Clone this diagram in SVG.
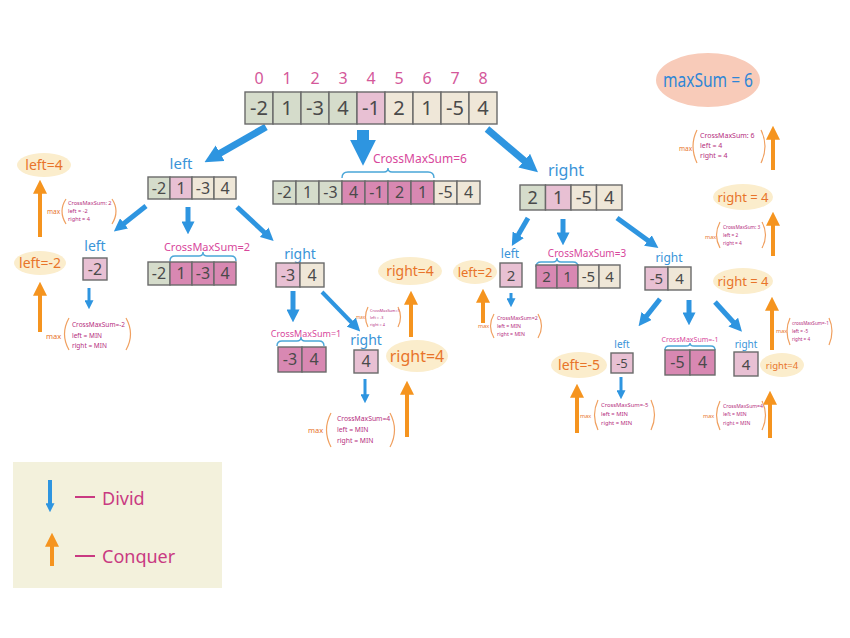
<svg xmlns="http://www.w3.org/2000/svg" width="850" height="638" viewBox="0 0 850 638">
<style>
.g{fill:#d5dccb;stroke:#6a6a6a;stroke-width:1.4}
.lp{fill:#e8c0d3;stroke:#6a6a6a;stroke-width:1.4}
.bg{fill:#efe7d8;stroke:#6a6a6a;stroke-width:1.4}
.dp{fill:#d888b2;stroke:#6a6a6a;stroke-width:1.4}
text{font-family:"Noto Sans","Liberation Sans",sans-serif}
.n{fill:#4a4a4a;text-anchor:middle}
.idx{fill:#d4589a;font-size:16px;text-anchor:middle}
.bl{fill:#3a94d8;text-anchor:middle}
.cm{fill:#d8489c;text-anchor:middle}
.ot{fill:#e8742a;text-anchor:middle}
.ell{fill:#fbedcc}
.mx{fill:#e8742a}
.mt{fill:#b52d7e}
.par{fill:none;stroke:#f0a060;stroke-width:1.2}
.br{fill:none;stroke:#4aa6d8;stroke-width:1.4}
.ba{stroke:#2e95e0;fill:none}
.oa{stroke:#f5941f;stroke-width:4;fill:none;marker-end:url(#mo)}
</style>
<defs>
<marker id="mb0" viewBox="0 0 10 10" refX="2" refY="5" markerWidth="26" markerHeight="26" markerUnits="userSpaceOnUse" orient="auto"><path d="M0,0L10,5L0,10z" fill="#2e95e0"/></marker>
<marker id="mb1" viewBox="0 0 10 10" refX="2" refY="5" markerWidth="18" markerHeight="18" markerUnits="userSpaceOnUse" orient="auto"><path d="M0,0L10,5L0,10z" fill="#2e95e0"/></marker>
<marker id="mb2" viewBox="0 0 10 10" refX="2" refY="5" markerWidth="13" markerHeight="13" markerUnits="userSpaceOnUse" orient="auto"><path d="M0,0L10,5L0,10z" fill="#2e95e0"/></marker>
<marker id="mb3" viewBox="0 0 10 10" refX="2" refY="5" markerWidth="9" markerHeight="9" markerUnits="userSpaceOnUse" orient="auto"><path d="M0,0L10,5L0,10z" fill="#2e95e0"/></marker>
<marker id="mo" viewBox="0 0 10 10" refX="2" refY="5" markerWidth="14" markerHeight="14" markerUnits="userSpaceOnUse" orient="auto"><path d="M0,0L10,5L0,10z" fill="#f5941f"/></marker>
</defs>
<rect width="850" height="638" fill="#ffffff"/>

<g id="connectors">
<line class="ba" x1="266" y1="127" x2="217" y2="155" stroke-width="7" marker-end="url(#mb1)"/>
<line class="ba" x1="363" y1="130" x2="363" y2="145" stroke-width="12" marker-end="url(#mb0)"/>
<line class="ba" x1="487" y1="129" x2="527" y2="163" stroke-width="7" marker-end="url(#mb1)"/>
<line class="ba" x1="146" y1="206" x2="122" y2="225" stroke-width="5" marker-end="url(#mb2)"/>
<line class="ba" x1="188" y1="207" x2="188" y2="224" stroke-width="5" marker-end="url(#mb2)"/>
<line class="ba" x1="237" y1="207" x2="266" y2="234" stroke-width="5" marker-end="url(#mb2)"/>
<line class="ba" x1="293" y1="291" x2="293" y2="312" stroke-width="5" marker-end="url(#mb2)"/>
<line class="ba" x1="322" y1="292" x2="353" y2="324" stroke-width="4" marker-end="url(#mb2)"/>
<line class="ba" x1="528" y1="218" x2="517" y2="237" stroke-width="5" marker-end="url(#mb2)"/>
<line class="ba" x1="563" y1="219" x2="563" y2="235" stroke-width="5" marker-end="url(#mb2)"/>
<line class="ba" x1="617" y1="218" x2="650" y2="242" stroke-width="5" marker-end="url(#mb2)"/>
<line class="ba" x1="660" y1="299" x2="645" y2="318" stroke-width="5" marker-end="url(#mb2)"/>
<line class="ba" x1="689" y1="300" x2="689" y2="315" stroke-width="5" marker-end="url(#mb2)"/>
<line class="ba" x1="715" y1="302" x2="735" y2="324" stroke-width="5" marker-end="url(#mb2)"/>
<line class="ba" x1="89" y1="288" x2="89" y2="302" stroke-width="3" marker-end="url(#mb3)"/>
<line class="ba" x1="365" y1="379" x2="365" y2="396" stroke-width="3" marker-end="url(#mb3)"/>
<line class="ba" x1="511" y1="293" x2="511" y2="300" stroke-width="3" marker-end="url(#mb3)"/>
<line class="ba" x1="621" y1="377" x2="621" y2="392" stroke-width="3" marker-end="url(#mb3)"/>
<line class="oa" x1="40" y1="237" x2="40" y2="191"/>
<line class="oa" x1="40" y1="332" x2="40" y2="293"/>
<line class="oa" x1="411" y1="337" x2="411" y2="302"/>
<line class="oa" x1="407" y1="437" x2="407" y2="392"/>
<line class="oa" x1="483" y1="323" x2="483" y2="300"/>
<line class="oa" x1="577" y1="433" x2="577" y2="395"/>
<line class="oa" x1="770" y1="438" x2="770" y2="402"/>
<line class="oa" x1="772" y1="350" x2="772" y2="308"/>
<line class="oa" x1="773" y1="256" x2="773" y2="223"/>
<line class="oa" x1="773" y1="170" x2="773" y2="137"/>
</g>

<g id="root">
<text class="idx" x="259" y="84">0</text><text class="idx" x="287" y="84">1</text><text class="idx" x="315" y="84">2</text><text class="idx" x="343" y="84">3</text><text class="idx" x="371" y="84">4</text><text class="idx" x="399" y="84">5</text><text class="idx" x="427" y="84">6</text><text class="idx" x="455" y="84">7</text><text class="idx" x="483" y="84">8</text>
<rect class="g" x="245" y="92" width="28" height="32"/><rect class="g" x="273" y="92" width="28" height="32"/><rect class="g" x="301" y="92" width="28" height="32"/><rect class="g" x="329" y="92" width="28" height="32"/><rect class="lp" x="357" y="92" width="28" height="32"/><rect class="bg" x="385" y="92" width="28" height="32"/><rect class="bg" x="413" y="92" width="28" height="32"/><rect class="bg" x="441" y="92" width="28" height="32"/><rect class="bg" x="469" y="92" width="28" height="32"/>
<g class="n" font-size="20"><text x="259" y="115">-2</text><text x="287" y="115">1</text><text x="315" y="115">-3</text><text x="343" y="115">4</text><text x="371" y="115">-1</text><text x="399" y="115">2</text><text x="427" y="115">1</text><text x="455" y="115">-5</text><text x="483" y="115">4</text></g>
</g>

<g id="cross-root">
<text class="cm" x="420" y="163" font-size="12">CrossMaxSum=6</text>
<path class="br" d="M342,178 Q342,172 348,172 L384,172 Q388,172 388,168 Q388,172 392,172 L428,172 Q434,172 434,178"/>
<rect class="g" x="273" y="181" width="23" height="23"/><rect class="g" x="296" y="181" width="23" height="23"/><rect class="g" x="319" y="181" width="23" height="23"/><rect class="dp" x="342" y="181" width="23" height="23"/><rect class="dp" x="365" y="181" width="23" height="23"/><rect class="dp" x="388" y="181" width="23" height="23"/><rect class="dp" x="411" y="181" width="23" height="23"/><rect class="bg" x="434" y="181" width="23" height="23"/><rect class="bg" x="457" y="181" width="23" height="23"/>
<g class="n" font-size="16"><text x="284.5" y="198">-2</text><text x="307.5" y="198">1</text><text x="330.5" y="198">-3</text><text x="353.5" y="198">4</text><text x="376.5" y="198">-1</text><text x="399.5" y="198">2</text><text x="422.5" y="198">1</text><text x="445.5" y="198">-5</text><text x="468.5" y="198">4</text></g>
</g>

<g id="left">
<text class="bl" x="181" y="169" font-size="15">left</text>
<rect class="g" x="148" y="177" width="22" height="22"/><rect class="lp" x="170" y="177" width="22" height="22"/><rect class="bg" x="192" y="177" width="22" height="22"/><rect class="bg" x="214" y="177" width="22" height="22"/>
<g class="n" font-size="16"><text x="159" y="194">-2</text><text x="181" y="194">1</text><text x="203" y="194">-3</text><text x="225" y="194">4</text></g>
</g>

<g id="left-result">
<ellipse class="ell" cx="44" cy="165" rx="27" ry="12"/>
<text class="ot" x="44" y="170" font-size="14">left=4</text>
<text class="mx" x="47" y="214" font-size="6.5">max</text>
<path class="par" d="M66,199 Q58,211 66,224"/><path class="par" d="M112,199 Q120,211 112,224"/>
<g class="mt" font-size="5.6"><text x="68" y="205">CrossMaxSum: 2</text><text x="68" y="213">left = -2</text><text x="68" y="221">right = 4</text></g>
</g>

<g id="left-left">
<text class="bl" x="95" y="251" font-size="14">left</text>
<rect class="lp" x="83" y="258" width="24" height="22"/>
<text class="n" x="95" y="275" font-size="16">-2</text>
<ellipse class="ell" cx="40" cy="263" rx="26" ry="12"/>
<text class="ot" x="40" y="268" font-size="14">left=-2</text>
<text class="mx" x="46" y="339" font-size="7.5">max</text>
<path class="par" d="M69,318 Q60,334 69,350"/><path class="par" d="M126,318 Q135,334 126,350"/>
<g class="mt" font-size="6.5"><text x="72" y="327">CrossMaxSum=-2</text><text x="72" y="338">left = MIN</text><text x="72" y="348">right = MIN</text></g>
</g>

<g id="left-cross">
<text class="cm" x="207" y="251" font-size="11">CrossMaxSum=2</text>
<path class="br" d="M170,261 Q170,256 175,256 L199,256 Q203,256 203,252 Q203,256 207,256 L231,256 Q236,256 236,261"/>
<rect class="g" x="148" y="262" width="22" height="23"/><rect class="dp" x="170" y="262" width="22" height="23"/><rect class="dp" x="192" y="262" width="22" height="23"/><rect class="dp" x="214" y="262" width="22" height="23"/>
<g class="n" font-size="16"><text x="159" y="279">-2</text><text x="181" y="279">1</text><text x="203" y="279">-3</text><text x="225" y="279">4</text></g>
</g>

<g id="left-right">
<text class="bl" x="300" y="259" font-size="14">right</text>
<rect class="lp" x="276" y="263" width="24" height="24"/><rect class="bg" x="300" y="263" width="24" height="24"/>
<g class="n" font-size="16"><text x="288" y="281">-3</text><text x="312" y="281">4</text></g>
<ellipse class="ell" cx="410" cy="271" rx="32" ry="14"/>
<text class="ot" x="410" y="276" font-size="14">right=4</text>
<text class="mx" x="356" y="319" font-size="4.5">max</text>
<path class="par" d="M368,307 Q363,317 368,327"/><path class="par" d="M398,307 Q403,317 398,327"/>
<g class="mt" font-size="3.8"><text x="370" y="312">CrossMaxSum=1</text><text x="370" y="319">left = -3</text><text x="370" y="326">right = 4</text></g>
</g>

<g id="left-right-cross">
<text class="cm" x="306" y="337" font-size="9">CrossMaxSum=1</text>
<path class="br" d="M277,346 Q277,341 282,341 L297,341 Q301,341 301,337 Q301,341 305,341 L319,341 Q324,341 324,346"/>
<rect class="dp" x="278" y="347" width="24" height="25"/><rect class="dp" x="302" y="347" width="24" height="25"/>
<g class="n" font-size="16"><text x="290" y="365">-3</text><text x="314" y="365">4</text></g>
</g>

<g id="left-right-right">
<text class="bl" x="366" y="345" font-size="14">right</text>
<rect class="lp" x="354" y="350" width="24" height="23"/>
<text class="n" x="366" y="367" font-size="16">4</text>
<ellipse class="ell" cx="417" cy="356" rx="31" ry="16"/>
<text class="ot" x="417" y="362" font-size="16">right=4</text>
<text class="mx" x="308" y="433" font-size="7.5">max</text>
<path class="par" d="M331,413 Q322,430 331,447"/><path class="par" d="M390,413 Q399,430 390,447"/>
<g class="mt" font-size="6.8"><text x="337" y="421">CrossMaxSum=4</text><text x="337" y="432">left = MIN</text><text x="337" y="443">right = MIN</text></g>
</g>

<g id="right">
<text class="bl" x="566" y="176" font-size="16">right</text>
<rect class="g" x="520" y="185" width="25.5" height="25"/><rect class="lp" x="545.5" y="185" width="25.5" height="25"/><rect class="bg" x="571" y="185" width="25.5" height="25"/><rect class="bg" x="596.5" y="185" width="25.5" height="25"/>
<g class="n" font-size="18"><text x="532.75" y="204">2</text><text x="558.25" y="204">1</text><text x="583.75" y="204">-5</text><text x="609.25" y="204">4</text></g>
</g>

<g id="right-left">
<text class="bl" x="510" y="258" font-size="12">left</text>
<rect class="lp" x="500" y="263" width="22" height="24"/>
<text class="n" x="511" y="281" font-size="15">2</text>
<ellipse class="ell" cx="475" cy="272" rx="22" ry="12"/>
<text class="ot" x="475" y="277" font-size="13">left=2</text>
<text class="mx" x="478" y="328" font-size="5.5">max</text>
<path class="par" d="M494,314 Q487,326 494,338"/><path class="par" d="M538,314 Q545,326 538,338"/>
<g class="mt" font-size="5.2"><text x="497" y="320">CrossMaxSum=2</text><text x="497" y="328">left = MIN</text><text x="497" y="336">right = MIN</text></g>
</g>

<g id="right-cross">
<text class="cm" x="587" y="257" font-size="10">CrossMaxSum=3</text>
<path class="br" d="M536,267 Q536,262 541,262 L553,262 Q557,262 557,258 Q557,262 561,262 L573,262 Q578,262 578,267"/>
<rect class="dp" x="536" y="265" width="21" height="23"/><rect class="dp" x="557" y="265" width="21" height="23"/><rect class="bg" x="578" y="265" width="21" height="23"/><rect class="bg" x="599" y="265" width="21" height="23"/>
<g class="n" font-size="15"><text x="546.5" y="282">2</text><text x="567.5" y="282">1</text><text x="588.5" y="282">-5</text><text x="609.5" y="282">4</text></g>
</g>

<g id="right-right">
<text class="bl" x="669" y="262" font-size="12">right</text>
<rect class="lp" x="645" y="267" width="23" height="23"/><rect class="bg" x="668" y="267" width="23" height="23"/>
<g class="n" font-size="15"><text x="656.5" y="284">-5</text><text x="679.5" y="284">4</text></g>
<ellipse class="ell" cx="743" cy="281" rx="30" ry="13"/>
<text class="ot" x="743" y="286" font-size="13">right = 4</text>
<text class="mx" x="776" y="333" font-size="5.5">max</text>
<path class="par" d="M790,318 Q784,331 790,345"/><path class="par" d="M829,318 Q835,331 829,345"/>
<g class="mt" font-size="4.6"><text x="792" y="325">crossMaxSum=-1</text><text x="792" y="333">left = -5</text><text x="792" y="341">right = 4</text></g>
</g>

<g id="right-right-left">
<text class="bl" x="622" y="348" font-size="10">left</text>
<rect class="lp" x="611" y="353" width="22" height="20"/>
<text class="n" x="622" y="368" font-size="13">-5</text>
<ellipse class="ell" cx="579" cy="365" rx="28" ry="13"/>
<text class="ot" x="579" y="370" font-size="14">left=-5</text>
<text class="mx" x="580" y="418" font-size="5.5">max</text>
<path class="par" d="M598,400 Q591,415 598,430"/><path class="par" d="M651,400 Q658,415 651,430"/>
<g class="mt" font-size="5.8"><text x="601" y="407">CrossMaxSum=-5</text><text x="601" y="416">left = MIN</text><text x="601" y="425">right = MIN</text></g>
</g>

<g id="right-right-cross">
<text class="cm" x="690" y="342" font-size="7">CrossMaxSum=-1</text>
<path class="br" d="M665,350 Q665,346 669,346 L686,346 Q690,346 690,343 Q690,346 694,346 L711,346 Q715,346 715,350"/>
<rect class="dp" x="665" y="350" width="25" height="25"/><rect class="dp" x="690" y="350" width="25" height="25"/>
<g class="n" font-size="16"><text x="677.5" y="368">-5</text><text x="702.5" y="368">4</text></g>
</g>

<g id="right-right-right">
<text class="bl" x="746" y="348" font-size="10">right</text>
<rect class="lp" x="734" y="352" width="24" height="24"/>
<text class="n" x="746" y="370" font-size="15">4</text>
<ellipse class="ell" cx="782" cy="365" rx="22" ry="12"/>
<text class="ot" x="782" y="369" font-size="9.5">right=4</text>
<text class="mx" x="703" y="418" font-size="5.5">max</text>
<path class="par" d="M720,401 Q713,415 720,430"/><path class="par" d="M762,401 Q769,415 762,430"/>
<g class="mt" font-size="5.1"><text x="723" y="408">CrossMaxSum=4</text><text x="723" y="416">left = MIN</text><text x="723" y="425">right = MIN</text></g>
</g>

<g id="right-result">
<ellipse class="ell" cx="743" cy="197" rx="30" ry="13"/>
<text class="ot" x="743" y="202" font-size="13">right = 4</text>
<text class="mx" x="705" y="239" font-size="5.5">max</text>
<path class="par" d="M720,222 Q713,235 720,248"/><path class="par" d="M762,222 Q769,235 762,248"/>
<g class="mt" font-size="4.8"><text x="723" y="229">CrossMaxSum: 3</text><text x="723" y="237">left = 2</text><text x="723" y="245">right = 4</text></g>
</g>

<g id="final">
<ellipse cx="708" cy="80" rx="52" ry="27" fill="#f8cbb9"/>
<text x="708" y="87" fill="#2e86d6" font-size="19" text-anchor="middle" textLength="90" lengthAdjust="spacingAndGlyphs">maxSum = 6</text>
<text class="mx" x="679" y="151" font-size="6.5">max</text>
<path class="par" d="M697,130 Q689,146 697,163"/><path class="par" d="M761,130 Q769,146 761,163"/>
<g class="mt" font-size="7"><text x="700" y="138">CrossMaxSum: 6</text><text x="700" y="148">left = 4</text><text x="700" y="158">right = 4</text></g>
</g>

<g id="legend">
<rect x="13" y="462" width="209" height="126" fill="#f3f1dc"/>
<line class="ba" x1="50" y1="480" x2="50" y2="505" stroke-width="4" marker-end="url(#mb3)"/>
<line class="oa" x1="52" y1="566" x2="52" y2="544"/>
<line x1="75" y1="497" x2="95" y2="497" stroke="#c93a82" stroke-width="2"/>
<line x1="75" y1="556" x2="95" y2="556" stroke="#c93a82" stroke-width="2"/>
<text x="102" y="505" fill="#c93a82" font-size="18">Divid</text>
<text x="102" y="563" fill="#c93a82" font-size="18">Conquer</text>
</g>
</svg>
